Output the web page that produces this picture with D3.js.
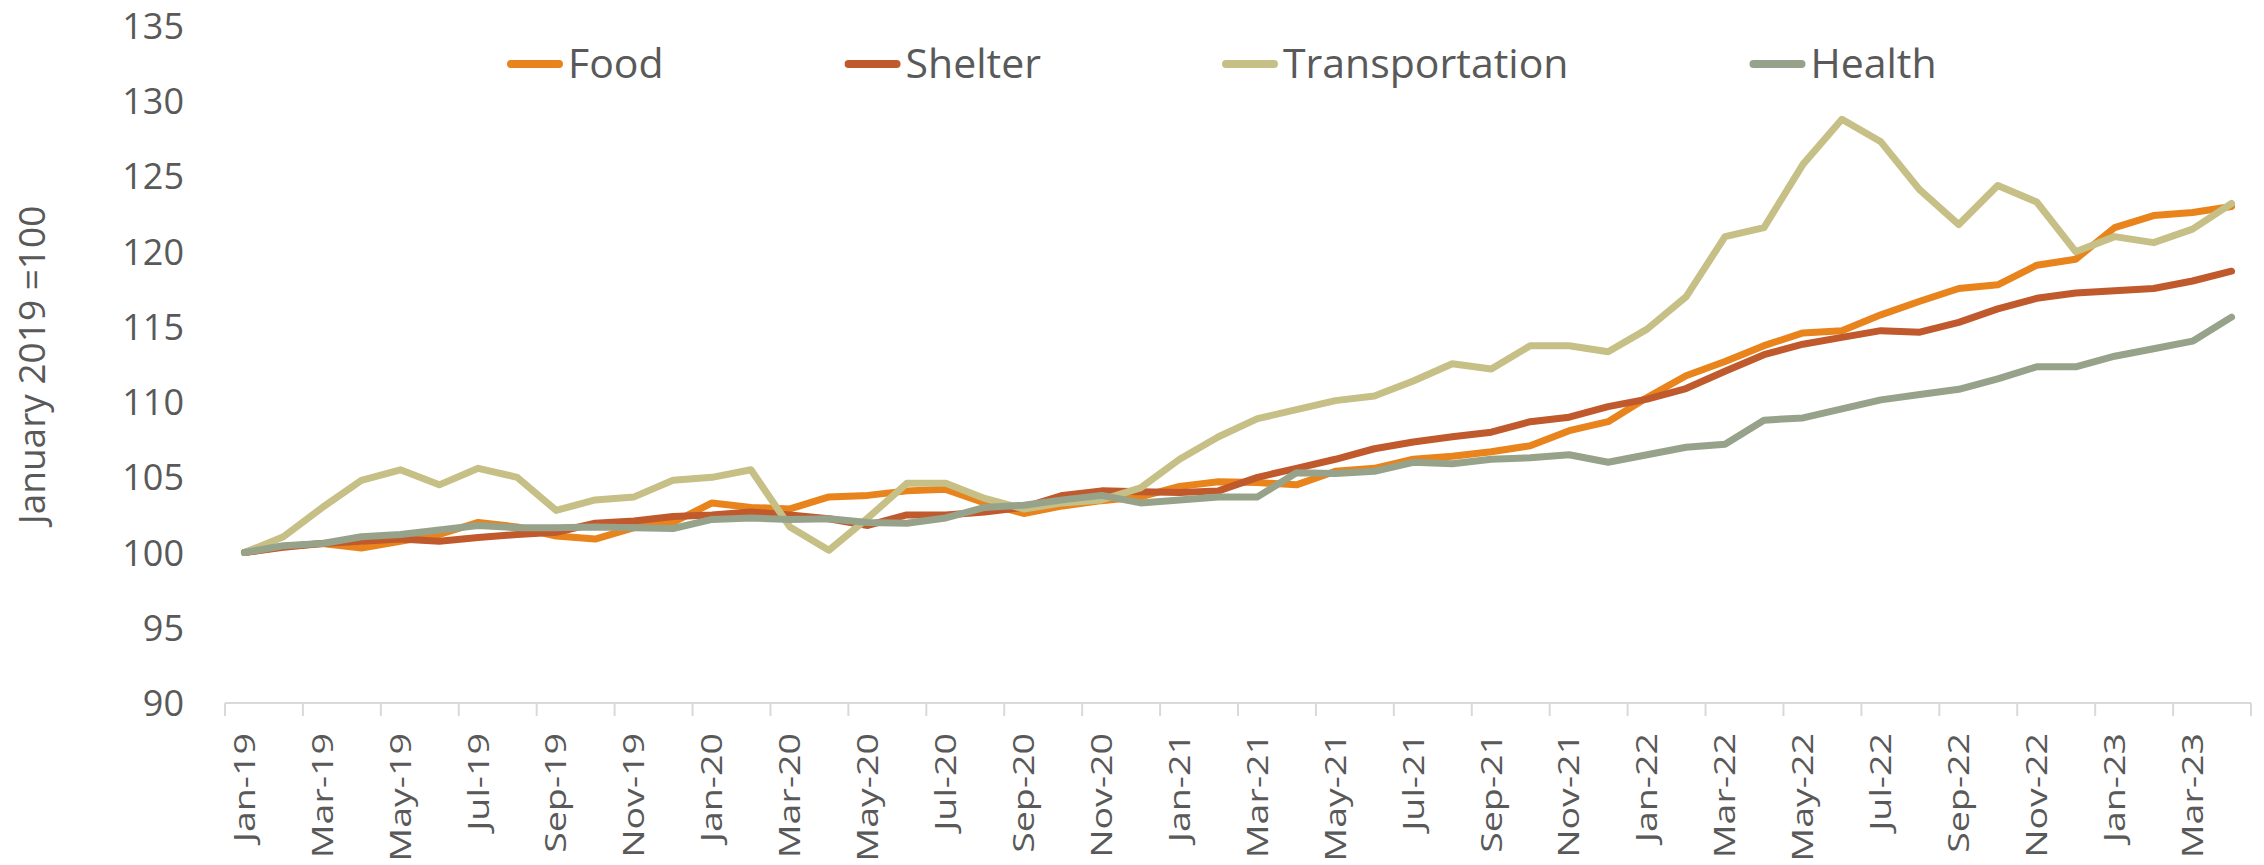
<!DOCTYPE html>
<html>
<head>
<meta charset="utf-8">
<script src="https://cdn.jsdelivr.net/npm/d3@7"></script>
<style>
    body { margin: 0; background: #fff; }
    text { font-family: "Open Sans", sans-serif; fill: #595959; }
</style>
</head>
<body>
<div id="chart"></div>
<script>

var months = ["Jan-19","Feb-19","Mar-19","Apr-19","May-19","Jun-19","Jul-19","Aug-19","Sep-19","Oct-19","Nov-19","Dec-19",
    "Jan-20","Feb-20","Mar-20","Apr-20","May-20","Jun-20","Jul-20","Aug-20","Sep-20","Oct-20","Nov-20","Dec-20",
    "Jan-21","Feb-21","Mar-21","Apr-21","May-21","Jun-21","Jul-21","Aug-21","Sep-21","Oct-21","Nov-21","Dec-21",
    "Jan-22","Feb-22","Mar-22","Apr-22","May-22","Jun-22","Jul-22","Aug-22","Sep-22","Oct-22","Nov-22","Dec-22",
    "Jan-23","Feb-23","Mar-23","Apr-23"];

var food = [100.0,100.4,100.6,100.3,100.75,101.2,102.0,101.7,101.1,100.9,101.65,102.0,
    103.3,103.0,102.9,103.7,103.8,104.1,104.2,103.3,102.6,103.1,103.45,103.7,
    104.4,104.7,104.65,104.5,105.4,105.6,106.2,106.4,106.7,107.1,108.1,108.7,
    110.3,111.75,112.7,113.75,114.6,114.75,115.8,116.7,117.55,117.8,119.1,119.5,
    121.6,122.4,122.6,123.0];

var shelter = [100.0,100.35,100.6,100.75,100.9,100.75,101.0,101.2,101.35,101.95,102.1,102.4,
    102.5,102.7,102.5,102.25,101.8,102.5,102.5,102.7,103.0,103.8,104.1,104.05,
    104.0,104.1,105.0,105.6,106.2,106.9,107.35,107.7,108.0,108.7,109.0,109.7,
    110.2,110.9,112.05,113.15,113.85,114.3,114.75,114.65,115.3,116.2,116.9,117.25,
    117.4,117.55,118.05,118.7];

var transportation = [100.0,101.05,103.0,104.8,105.5,104.5,105.6,105.0,102.8,103.5,103.7,104.8,
    105.0,105.5,101.7,100.15,102.3,104.6,104.6,103.6,102.9,103.3,103.5,104.3,
    106.2,107.7,108.9,109.5,110.1,110.4,111.4,112.55,112.2,113.75,113.75,113.35,
    114.85,117.0,121.0,121.6,125.8,128.8,127.3,124.1,121.8,124.4,123.3,120.0,
    121.0,120.6,121.5,123.2];

var health = [100.0,100.45,100.6,101.05,101.2,101.5,101.8,101.65,101.65,101.7,101.65,101.6,
    102.2,102.3,102.2,102.25,102.0,101.95,102.3,103.0,103.15,103.5,103.8,103.3,
    103.5,103.7,103.7,105.3,105.25,105.4,106.0,105.9,106.2,106.3,106.5,106.0,
    106.5,107.0,107.2,108.8,108.95,109.55,110.15,110.5,110.85,111.55,112.35,112.35,
    113.05,113.55,114.05,115.65];

var seriesNames = ["Food", "Shelter", "Transportation", "Health"];
var seriesColors = ["#E8841B", "#C0592C", "#C6BF86", "#96A38A"];
var yTicks = [90, 95, 100, 105, 110, 115, 120, 125, 130, 135];


function drawCpiChart(placement, w, h) {
    var margins = {top: 26, right: 13, bottom: 162, left: 225};
    var width = w - margins.left - margins.right, height = h - margins.top - margins.bottom;

    var data = [food, shelter, transportation, health].map(function(vals, i) {
        return {name: seriesNames[i], color: seriesColors[i], values: vals};
    });

    var x = d3.scaleBand()
        .domain(months)
        .range([0, width]);

    var y = d3.scaleLinear()
        .domain([90, 135])
        .range([height, 0]);

    var svg = d3.select(placement).append("svg")
        .attr("width", w).attr("height", h);

    var g = svg.append("g")
        .attr("transform", "translate(" + margins.left + "," + margins.top + ")");

    // y tick labels, no axis line
    g.selectAll(".ylabel")
        .data(yTicks)
        .enter().append("text")
        .attr("class", "ylabel")
        .attr("x", -41)
        .attr("y", function(d) { return y(d); })
        .attr("dy", "0.36em")
        .attr("text-anchor", "end")
        .attr("font-size", "36px")
        .text(function(d) { return d; });

    // category axis
    g.append("line")
        .attr("x1", 0).attr("x2", width)
        .attr("y1", height).attr("y2", height)
        .attr("stroke", "#D9D9D9").attr("stroke-width", 2);

    var tickPos = months.filter(function(d, i) { return i % 2 == 0; }).map(function(d) { return x(d); });
    tickPos.push(width);
    g.selectAll(".xtick")
        .data(tickPos)
        .enter().append("line")
        .attr("class", "xtick")
        .attr("x1", function(d) { return d; }).attr("x2", function(d) { return d; })
        .attr("y1", height).attr("y2", height + 13)
        .attr("stroke", "#D9D9D9").attr("stroke-width", 2);

    g.selectAll(".xlabel")
        .data(months.filter(function(d, i) { return i % 2 == 0; }))
        .enter().append("text")
        .attr("class", "xlabel")
        .attr("transform", function(d) {
            return "translate(" + (x(d) + x.bandwidth() / 2) + "," + (height + 30) + ") rotate(-90) scale(1.28,1)";
        })
        .attr("dy", "0.35em")
        .attr("text-anchor", "end")
        .attr("font-size", "29.4px")
        .text(function(d) { return d; });

    // y title
    svg.append("text")
        .attr("transform", "translate(32,365) rotate(-90)")
        .attr("dy", "0.35em")
        .attr("text-anchor", "middle")
        .attr("font-size", "37px")
        .text("January 2019 =100");

    var line = d3.line()
        .x(function(d, i) { return x(months[i]) + x.bandwidth() / 2; })
        .y(function(d) { return y(d); });

    g.selectAll(".series")
        .data(data)
        .enter().append("path")
        .attr("class", "series")
        .attr("d", function(d) { return line(d.values); })
        .attr("fill", "none")
        .attr("stroke", function(d) { return d.color; })
        .attr("stroke-width", 7)
        .attr("stroke-linejoin", "round")
        .attr("stroke-linecap", "round");

    // legend across the top
    var legend = svg.append("g").attr("class", "legend");
    var lx = 507, ly = 64;
    data.forEach(function(d) {
        legend.append("line")
            .attr("x1", lx + 4).attr("x2", lx + 52)
            .attr("y1", ly).attr("y2", ly)
            .attr("stroke", d.color).attr("stroke-width", 8)
            .attr("stroke-linecap", "round");
        var t = legend.append("text")
            .attr("x", lx + 61)
            .attr("y", ly)
            .attr("dy", "0.35em")
            .attr("font-size", "41px")
            .text(d.name);
        lx += 61 + t.node().getComputedTextLength() + 181;
    });
}

drawCpiChart("#chart", 2264, 865);
</script>
</body>
</html>
